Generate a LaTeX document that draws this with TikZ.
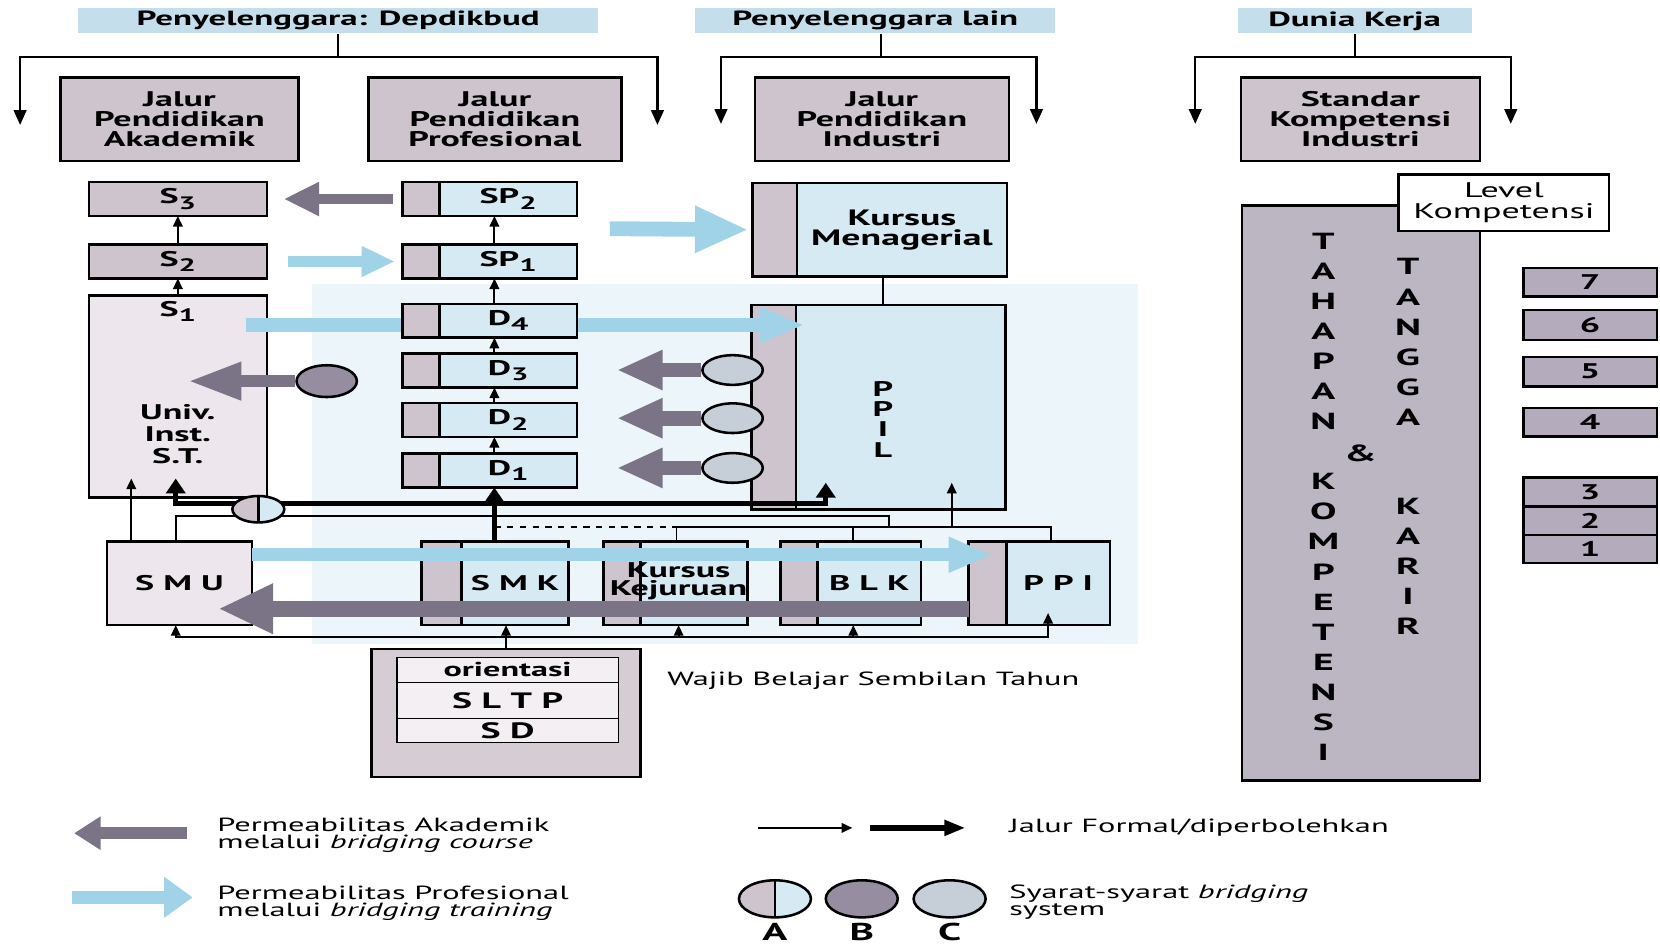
\documentclass[tikz,border=0pt]{standalone}
\usepackage{fontspec}
\setmainfont{PT Sans}[FakeStretch=1.7]
\usetikzlibrary{arrows.meta,positioning,shapes.geometric}

\definecolor{bannerblue}{RGB}{196,222,236}
\definecolor{lblue}{RGB}{214,234,243}
\definecolor{pgray}{RGB}{206,196,206}
\definecolor{univpink}{RGB}{238,230,237}
\definecolor{tallgray}{RGB}{188,182,194}
\definecolor{lvlgray}{RGB}{180,172,188}
\definecolor{arrowgray}{RGB}{122,116,134}
\definecolor{arrowblue}{RGB}{160,210,232}
\definecolor{ellB}{RGB}{150,142,160}
\definecolor{ellC}{RGB}{198,206,216}
\definecolor{fndgray}{RGB}{214,205,212}
\definecolor{innerw}{RGB}{243,239,242}
\definecolor{panel}{RGB}{236,245,250}

\newcommand{\lowidx}[1]{\raisebox{-0.5ex}{\fontsize{8.5}{8.5}\selectfont #1}}

\begin{document}
\begin{tikzpicture}[x=0.5pt, y=-0.5pt,
    box/.style={draw, line width=1.2pt, outer sep=0pt, inner sep=0pt, align=center, font=\bfseries\fontsize{10}{9.5}\selectfont},
    path box/.style={box, fill=pgray, minimum height=39.5pt},
    acad box/.style={box, fill=pgray, minimum width=84pt, minimum height=16pt},
    main part/.style={box, fill=lblue, minimum height=16pt},
    strip part/.style={box, fill=pgray, minimum height=16pt, minimum width=17.5pt},
    box label/.style={inner sep=0pt, align=center, font=\bfseries\fontsize{10}{10.2}\selectfont},
    vletter/.style={inner sep=0pt, font=\bfseries\fontsize{11}{11}\selectfont},
    level box/.style={box, fill=lvlgray, minimum width=63pt},
    inner box/.style={draw, line width=0.6pt, fill=innerw, outer sep=0pt, inner sep=0pt, minimum width=104.5pt, font=\bfseries\fontsize{9.5}{9.5}\selectfont},
    legend text/.style={inner sep=0pt, align=left, font=\fontsize{9}{8}\selectfont},
    banner/.style={fill=bannerblue, inner sep=0pt, minimum height=11.8pt, font=\bfseries\fontsize{9.7}{11}\selectfont},
    conn/.style={line width=0.9pt},
    flow/.style={conn, -{Triangle[length=5pt, width=4.5pt]}},
    big flow/.style={line width=2.4pt, -{Triangle[length=7pt, width=9pt]}},
    tree arrows/.style={line width=1pt, {Triangle[length=7pt, width=6pt]}-{Triangle[length=7pt, width=6pt]}},
    bridge/.style n args={4}{draw=#1, line width=#2, -{Triangle[length=#3, width=#4, fill=#1]}},
    ell B/.style={ellipse, draw, line width=1.2pt, fill=ellB, inner sep=0pt},
    ell C/.style={ellipse, draw, line width=1.2pt, fill=ellC, inner sep=0pt},
    ell A/.style={ellipse, draw, line width=1.2pt, fill=lblue, inner sep=0pt,
        path picture={\fill[pgray] (path picture bounding box.north west) rectangle (path picture bounding box.south);
                      \draw[line width=1.2pt] (path picture bounding box.north) -- (path picture bounding box.south);}}]

    \fill[white] (0,0) rectangle (1568,895);
    \useasboundingbox (0,0) rectangle (1568,895);
    \fill[panel] (295,268) rectangle (1075,608);

    % Penyelenggara
    \node[banner, minimum width=245.5pt] (penyA) at (319.5,19.7) {Penyelenggara: Depdikbud};
    \node[banner, minimum width=170pt] (penyB) at (826.8,19.7) {Penyelenggara lain};
    \node[banner, minimum width=110.5pt] (dunia) at (1279.5,19.7) {Dunia Kerja};

    \coordinate (jA) at (319.5,54);
    \coordinate (jAl) at (19,118);
    \coordinate (jAr) at (621,118);
    \coordinate (jB) at (832,54);
    \coordinate (jBl) at (681,117);
    \coordinate (jBr) at (979,117);
    \coordinate (jC) at (1280,54);
    \coordinate (jCl) at (1129,117);
    \coordinate (jCr) at (1427,117);

    \draw[conn] (penyA) -- (jA);
    \draw[tree arrows] (jAl) |- (jA) -| (jAr);
    \draw[conn] (penyB.south -| jB) -- (jB);
    \draw[tree arrows] (jBl) |- (jB) -| (jBr);
    \draw[conn] (dunia.south -| jC) -- (jC);
    \draw[tree arrows] (jCl) |- (jC) -| (jCr);

    % Jalur
    \node[path box, minimum width=112.5pt] (jakad) at (169.5,112.5) {Jalur\\Pendidikan\\Akademik};
    \node[path box, minimum width=119.5pt] (jprof) at (467.5,112.5) {Jalur\\Pendidikan\\Profesional};
    \node[path box, minimum width=120pt] (jind) at (833,112.5) {Jalur\\Pendidikan\\Industri};
    \node[path box, minimum width=113pt] (stdk) at (1285,112.5) {Standar\\Kompetensi\\Industri};

    % Akademik
    \node[acad box] (S3) at (168,188) {S\lowidx{3}};
    \node[acad box] (S2) at (168,247) {S\lowidx{2}};
    \node[acad box, fill=univpink, minimum height=95.5pt] (S1) at (168,374.5) {};
    \node[box label] (S1t) at (168,294) {S\lowidx{1}};
    \node[box label] (univ) at (168,410) {Univ.\\Inst.\\S.T.};
    \draw[flow] (S2) -- (S3);
    \draw[flow] (S1) -- (S2);

    % Industri
    \node[main part, minimum width=99pt, minimum height=44pt, font=\bfseries\fontsize{10.5}{9.5}\selectfont] (KM) at (852,217) {Kursus\\Menagerial};
    \node[strip part, minimum width=21pt, minimum height=44pt, left=0pt of KM] (KM-s) {};
    \node[main part, minimum width=99pt, minimum height=96.75pt] (PPIL) at (851,384.75) {};
    \node[strip part, minimum width=21pt, minimum height=96.75pt, left=0pt of PPIL] (PPIL-s) {};
    \node[box label, font=\bfseries\fontsize{10}{9.6}\selectfont] (ppilt) at (834,396) {P\\P\\I\\L};
    \draw[conn] (KM.south -| ppilt) -- (PPIL.north -| ppilt);

    \coordinate (bd4a) at (232,307);
    \coordinate (bd4b) at (760,307);
    \draw[bridge={arrowblue}{7pt}{21pt}{15.5pt}] (bd4a) -- (bd4b);

    % Profesional
    \coordinate (pcol) at (467,0);
    \foreach \nm/\yy/\lab/\idx in {SP2/188/SP/2, SP1/247/SP/1, D4/303/D/4, D3/350/D/3, D2/396.7/D/2, D1/444.5/D/1} {
        \node[main part, minimum width=65pt] (\nm) at (480,\yy) {\lab\lowidx{\idx}};
        \node[strip part, left=0pt of \nm] (\nm-s) {};
    }
    \foreach \a/\b in {SP1/SP2, D4/SP1, D3/D4, D2/D3, D1/D2}
        \draw[flow] (\a.north -| pcol) -- (\b.south -| pcol);

    % Dunia kerja
    \node[box, fill=tallgray, minimum width=112.5pt, minimum height=271.5pt] (tangga) at (1285.5,465.5) {};
    \node[box, fill=white, minimum width=99.5pt, minimum height=26.5pt, font=\fontsize{10}{9.5}\selectfont] (levk) at (1420.5,191.5) {Level\\Kompetensi};
    \foreach \ch [count=\i from 0] in {T,A,H,A,P,A,N}
        \node[vletter] (tah\i) at (1250,{228+28.4*\i}) {\ch};
    \foreach \ch [count=\i from 0] in {K,O,M,P,E,T,E,N,S,I}
        \node[vletter] (kom\i) at (1250,{455+28.4*\i}) {\ch};
    \foreach \ch [count=\i from 0] in {T,A,N,G,G,A}
        \node[vletter] (tan\i) at (1330,{252+28.4*\i}) {\ch};
    \foreach \ch [count=\i from 0] in {K,A,R,I,R}
        \node[vletter] (kar\i) at (1330,{478+28.4*\i}) {\ch};
    \node[vletter] (amp) at (1285,428) {\&};

    \foreach \n/\yy/\hh in {7/266.5/13.5pt, 6/307/14pt, 5/351/14pt, 4/399/13.5pt, 3/465/13.8pt, 2/492/13.35pt, 1/518.6/13.35pt}
        \node[level box, minimum height=\hh] (lv\n) at (1502,\yy) {\n};

    % Sekolah menengah dan kursus
    \node[box, fill=univpink, minimum width=68.5pt, minimum height=39.5pt] (SMU) at (169.5,551) {S M U};
    \node[main part, minimum width=50.5pt, minimum height=39.5pt] (SMK) at (486.5,551) {S M K};
    \node[strip part, minimum width=19pt, minimum height=39.5pt, left=0pt of SMK] (SMK-s) {};
    \node[main part, minimum width=50.5pt, minimum height=39.5pt] (KK) at (655.5,551) {};
    \node[strip part, minimum width=17.5pt, minimum height=39.5pt, left=0pt of KK] (KK-s) {};
    \node[box label, font=\bfseries\fontsize{10}{8.8}\selectfont] (KKt) at (641,549) {Kursus\\Kejuruan};
    \node[main part, minimum width=49pt, minimum height=39.5pt] (BLK) at (821,551) {B L K};
    \node[strip part, minimum width=17.5pt, minimum height=39.5pt, left=0pt of BLK] (BLK-s) {};
    \node[main part, minimum width=49pt, minimum height=39.5pt] (PPI) at (999.5,551) {P P I};
    \node[strip part, minimum width=17.75pt, minimum height=39.5pt, left=0pt of PPI] (PPI-s) {};

    % Wajib belajar
    \node[box, fill=fndgray, minimum width=127pt, minimum height=60.5pt] (fnd) at (478,673.5) {};
    \node[inner box, minimum height=11.75pt] (orient) at (479.5,632.75) {orientasi};
    \node[inner box, minimum height=17pt, font=\bfseries\fontsize{10.5}{10}\selectfont] (sltp) at (479.5,661.5) {S L T P};
    \node[inner box, minimum height=11.5pt, font=\bfseries\fontsize{10.5}{10}\selectfont] (sd) at (479.5,690) {S D};
    \node[legend text, anchor=west] (wajib) at (630,643) {Wajib Belajar Sembilan Tahun};

    % Jalur formal
    \coordinate (thl) at (166,476);
    \coordinate (uin) at (166,452);
    \coordinate (pin) at (780,456);
    \coordinate (tla) at (124,452);
    \coordinate (tn) at (840,487);
    \coordinate (tierl) at (639,498);
    \coordinate (tierr) at (993,498);
    \coordinate (ppup) at (899,456);
    \coordinate (blkx) at (806,0);
    \coordinate (bus) at (478,602);
    \coordinate (ppix) at (990,579);

    \draw[flow] (SMU.north -| tla) -- (tla);
    \draw[conn] (SMU.north -| thl) |- (tn) -- (tn |- tierl);
    \draw[conn] (tierl) -- (tierr) -- (tierr |- PPI.north);
    \draw[conn] (tierl) -- (tierl |- KK.north);
    \draw[conn] (blkx |- tierl) -- (blkx |- BLK.north);
    \draw[flow] (ppup |- tierl) -- (ppup);
    \draw[conn, dashed] (pcol |- tierl) -- (tierl);
    \draw[big flow] (SMK.north -| pcol) -- (D1.south -| pcol);
    \draw[big flow] (pcol |- thl) -| (uin);
    \draw[big flow] (pcol |- thl) -| (pin);

    \draw[flow] (fnd.north) -- (fnd.north |- SMK.south);
    \draw[flow] (bus) -| (SMU.south -| uin);
    \draw[flow] (bus) -| (ppix);
    \draw[flow] (KKt |- bus) -- (KKt |- KK.south);
    \draw[flow] (blkx |- bus) -- (blkx |- BLK.south);

    % Bridging
    \node[ell A, minimum width=24.5pt, minimum height=12.5pt] (brA) at (244,481) {};
    \node[ell B, minimum width=28.5pt, minimum height=15pt] (brB) at (308.6,360) {};
    \coordinate (gbB) at (177,360);
    \draw[bridge={arrowgray}{6pt}{25.5pt}{16.5pt}] (brB.west) -- (gbB);
    \coordinate (gcx) at (582.5,0);
    \foreach \yy [count=\i] in {349.5,395,442} {
        \node[ell C, minimum width=28.5pt, minimum height=14pt] (brC\i) at (692,\yy) {};
        \draw[bridge={arrowgray}{7pt}{21.75pt}{17.5pt}] (brC\i.west) -- (gcx |- brC\i);
    }
    \draw[bridge={arrowgray}{5pt}{16.75pt}{15pt}] ([xshift=-4.5pt]SP2-s.west) -- ([xshift=8pt]S3.east);
    \draw[bridge={arrowblue}{5.5pt}{15.7pt}{13.5pt}] ([xshift=10pt]S2.east) -- ([xshift=-3.5pt]SP1-s.west);
    \coordinate (bkm) at (576,216);
    \draw[bridge={arrowblue}{7pt}{25.3pt}{20.5pt}] (bkm) -- ([xshift=-2pt]KM-s.west);
    \draw[bridge={arrowblue}{6.3pt}{20.75pt}{15.5pt}] ([yshift=13.5pt]SMU.east) -- ([xshift=11.25pt,yshift=13.5pt]PPI-s.west);
    \draw[bridge={arrowgray}{7.5pt}{26pt}{22pt}] ([yshift=-12pt]PPI-s.west) -- ([xshift=-16pt,yshift=-12pt]SMU.east);

    % Legend
    \coordinate (lgA1) at (177,787);
    \coordinate (lgA2) at (70,787);
    \draw[bridge={arrowgray}{5.5pt}{12.5pt}{15pt}] (lgA1) -- (lgA2);
    \node[legend text, anchor=west] (lgAt) at (205,789) {Permeabilitas Akademik\\melalui \textit{bridging course}};
    \coordinate (lgB1) at (68,847.6);
    \coordinate (lgB2) at (182,847.6);
    \draw[bridge={arrowblue}{6pt}{13.5pt}{18.5pt}] (lgB1) -- (lgB2);
    \node[legend text, anchor=west] (lgBt) at (205,853) {Permeabilitas Profesional\\melalui \textit{bridging training}};

    \coordinate (lgC1) at (716,782);
    \coordinate (lgC2) at (805,782);
    \coordinate (lgD1) at (822,782);
    \coordinate (lgD2) at (912,782);
    \draw[flow] (lgC1) -- (lgC2);
    \draw[line width=2.7pt, -{Triangle[length=10pt, width=7pt]}] (lgD1) -- (lgD2);
    \node[legend text, anchor=west] (lgCt) at (953,782) {Jalur Formal/diperbolehkan};

    \node[ell A, minimum width=34pt, minimum height=17.5pt] (lA) at (732,849) {};
    \node[ell B, minimum width=34pt, minimum height=17.5pt] (lB) at (814,849) {};
    \node[ell C, minimum width=34pt, minimum height=17.5pt] (lC) at (897,849) {};
    \node[vletter, font=\bfseries\fontsize{11.5}{11.5}\selectfont] (lAt) at (732,880) {A};
    \node[vletter, font=\bfseries\fontsize{11.5}{11.5}\selectfont] (lBt) at (814,880) {B};
    \node[vletter, font=\bfseries\fontsize{11.5}{11.5}\selectfont] (lCt) at (897,880) {C};
    \node[legend text, anchor=west] (lgDt) at (953,852) {Syarat-syarat \textit{bridging}\\system};

\end{tikzpicture}
\end{document}
